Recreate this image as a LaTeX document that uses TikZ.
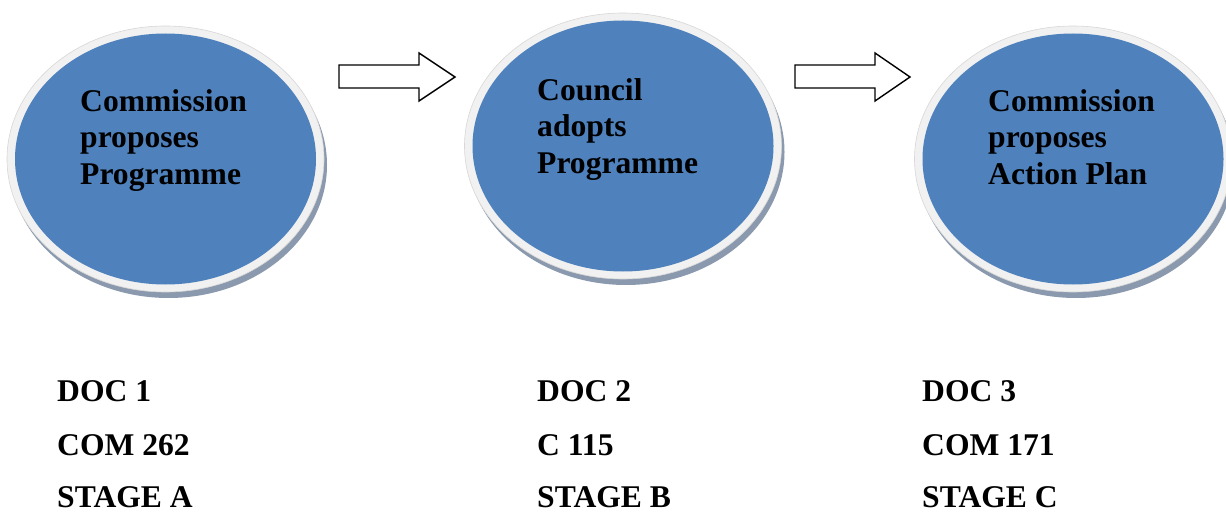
\documentclass[tikz,border=0pt]{standalone}
\usepackage{fontspec}
\setmainfont{Liberation Serif}
\usetikzlibrary{shapes.geometric}
\definecolor{blobblue}{RGB}{79,129,189}
\definecolor{ringgrey}{RGB}{241,241,241}
\definecolor{ringedge}{RGB}{215,215,215}
\definecolor{shadowgrey}{RGB}{138,153,174}
\tikzset{
  blob/.style={ellipse, inner sep=0pt, fill=blobblue, minimum width=301pt, minimum height=251pt},
  ring/.style={ellipse, inner sep=0pt, fill=ringgrey, draw=ringedge, line width=0.6pt, minimum width=317pt, minimum height=266pt},
  shade/.style={ellipse, inner sep=0pt, fill=shadowgrey, minimum width=317pt, minimum height=266pt},
  lbl/.style={anchor=base west, inner sep=0pt, font=\bfseries\fontsize{31.6}{36.5}\selectfont},
  blockarrow/.style={draw=black, fill=white, line width=1.4pt, line join=miter}
}
\begin{document}
\begin{tikzpicture}[x=1pt,y=-1pt]
\useasboundingbox (0,0) rectangle (1226,513);
% ellipses
\foreach \n/\cx/\cy in {e1/165.5/159, e2/623/146, e3/1073/159}{
  \node[shade] (\n s) at (\cx+3,\cy+6) {};
  \node[ring] (\n r) at (\cx,\cy) {};
  \node[blob] (\n) at (\cx,\cy) {};
}
% block arrows
\draw[blockarrow] (339,65) -- (419,65) -- (419,53) -- (455,77) -- (419,101) -- (419,88) -- (339,88) -- cycle;
\draw[blockarrow] (795,65) -- (875,65) -- (875,53) -- (910,77) -- (875,101) -- (875,88) -- (795,88) -- cycle;
% ellipse labels
\node[lbl] (t1a) at (80,111.5) {Commission};
\node[lbl] (t1b) at (80,148) {proposes};
\node[lbl] (t1c) at (80,184.5) {Programme};
\node[lbl] (t2a) at (537,100.5) {Council};
\node[lbl] (t2b) at (537,137) {adopts};
\node[lbl] (t2c) at (537,173.5) {Programme};
\node[lbl] (t3a) at (988,111.5) {Commission};
\node[lbl] (t3b) at (988,148) {proposes};
\node[lbl] (t3c) at (988,184.5) {Action Plan};
% document labels
\node[lbl] (d1a) at (57,401) {DOC 1};
\node[lbl] (d1b) at (57,455) {COM 262};
\node[lbl] (d1c) at (57,507) {STAGE A};
\node[lbl] (d2a) at (537,401) {DOC 2};
\node[lbl] (d2b) at (537,455) {C 115};
\node[lbl] (d2c) at (537,507) {STAGE B};
\node[lbl] (d3a) at (922,401) {DOC 3};
\node[lbl] (d3b) at (922,455) {COM 171};
\node[lbl] (d3c) at (922,507) {STAGE C};
\end{tikzpicture}
\end{document}
